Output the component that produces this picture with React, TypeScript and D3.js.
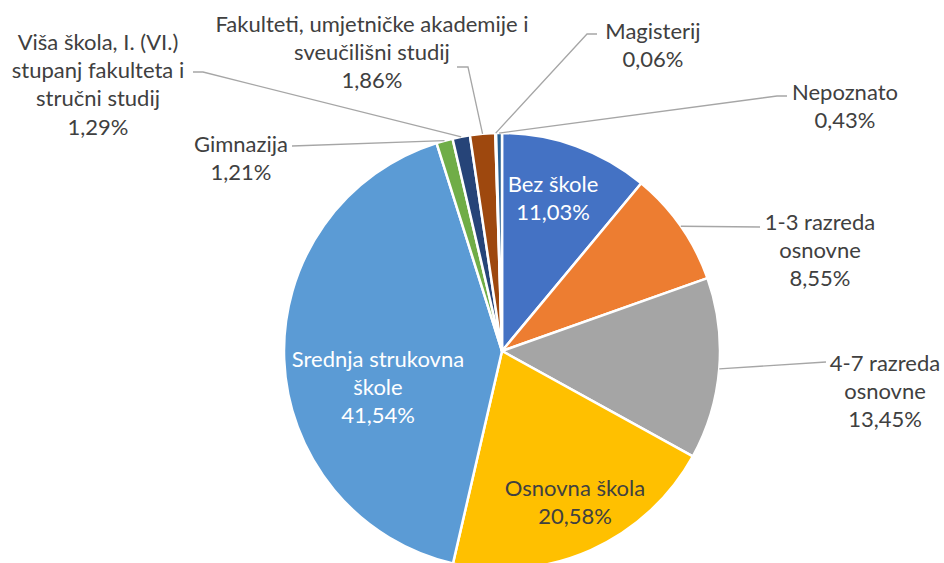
import React from "react";
import * as d3 from "d3";

// education level shares (%)
const categories = [
  "Bez škole",
  "1-3 razreda osnovne",
  "4-7 razreda osnovne",
  "Osnovna škola",
  "Srednja strukovna škole",
  "Gimnazija",
  "Viša škola, I. (VI.) stupanj fakulteta i stručni studij",
  "Fakulteti, umjetničke akademije i sveučilišni studij",
  "Magisterij",
  "Nepoznato",
];
const shares = [11.03, 8.55, 13.45, 20.58, 41.54, 1.21, 1.29, 1.86, 0.06, 0.43];
const percentLabels = [
  "11,03%", "8,55%", "13,45%", "20,58%", "41,54%",
  "1,21%", "1,29%", "1,86%", "0,06%", "0,43%",
];
// how the category names wrap in the labels
const labelLines = [
  ["Bez škole"],
  ["1-3 razreda", "osnovne"],
  ["4-7 razreda", "osnovne"],
  ["Osnovna škola"],
  ["Srednja strukovna", "škole"],
  ["Gimnazija"],
  ["Viša škola, I. (VI.)", "stupanj fakulteta i", "stručni studij"],
  ["Fakulteti, umjetničke akademije i", "sveučilišni studij"],
  ["Magisterij"],
  ["Nepoznato"],
];

const colors = [
  "#4472C4", "#ED7D31", "#A5A5A5", "#FFC000", "#5B9BD5",
  "#70AD47", "#264478", "#9E480E", "#636363", "#255E91",
];

// label placement (layout, not data)
type Place = { x: number; y: number; fill: string; leader?: [number, number][] };
const places: Place[] = [
  { x: 553, y: 183, fill: "#fff" },
  { x: 820, y: 221, fill: "#404040", leader: [[760, 227]] },
  { x: 885, y: 362, fill: "#404040", leader: [[826, 362]] },
  { x: 575, y: 487, fill: "#404040" },
  { x: 378, y: 358, fill: "#fff" },
  { x: 241, y: 143, fill: "#404040", leader: [[292, 146]] },
  { x: 98, y: 41, fill: "#404040", leader: [[203, 72], [193, 72]] },
  { x: 372, y: 23, fill: "#404040", leader: [[468, 67], [457, 67]] },
  { x: 653, y: 30, fill: "#404040", leader: [[587, 34], [597, 34]] },
  { x: 845, y: 91, fill: "#404040", leader: [[777, 96], [787, 96]] },
];

const width = 944;
const height = 563;
const cx = 502;
const cy = 351;
const radius = 218;
const lineH = 28.2;

export default function App() {
  const pie = d3
    .pie<number>()
    .sort(null)
    .value((d) => d);
  const arcs = pie(shares);
  const arc = d3.arc<d3.PieArcDatum<number>>().innerRadius(0).outerRadius(radius);
  const edge = d3.arc<d3.PieArcDatum<number>>().innerRadius(radius).outerRadius(radius);

  return (
    <svg
      width={width}
      height={height}
      style={{ position: "absolute", left: 0, top: 0, background: "#fff" }}
      fontFamily="Lato, 'Open Sans', sans-serif"
      fontSize={22}
    >
      <g transform={`translate(${cx},${cy})`}>
        {arcs.map((a, i) => (
          <path key={categories[i]} d={arc(a) ?? ""} fill={colors[i]} stroke="#fff" strokeWidth={2.5} strokeLinejoin="round" />
        ))}
      </g>
      {arcs.map((a, i) => {
        const p = places[i];
        if (!p.leader) return null;
        const [ex, ey] = edge.centroid(a);
        const pts: [number, number][] = [[cx + ex, cy + ey], ...p.leader];
        return (
          <path
            key={"l" + i}
            d={d3.line()(pts) ?? ""}
            fill="none"
            stroke="#A6A6A6"
            strokeWidth={1.3}
          />
        );
      })}
      {places.map((p, i) => {
        const lines = [...labelLines[i], percentLabels[i]];
        return (
          <text key={"t" + i} fill={p.fill} textAnchor="middle" dominantBaseline="central">
            {lines.map((s, j) => (
              <tspan key={j} x={p.x} y={p.y + j * lineH}>
                {s}
              </tspan>
            ))}
          </text>
        );
      })}
    </svg>
  );
}
